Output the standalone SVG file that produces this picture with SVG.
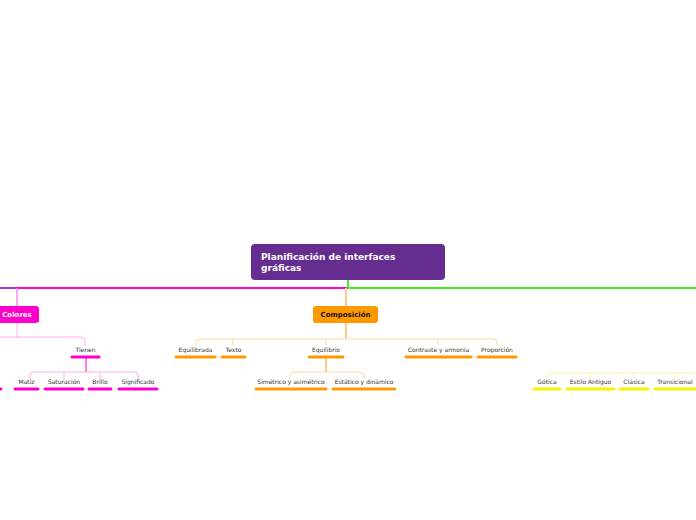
<svg xmlns="http://www.w3.org/2000/svg" width="696" height="520" viewBox="0 0 696 520">
<style>
text{font-family:"DejaVu Sans",Verdana,sans-serif}
.t{font-size:6px;fill:#333;text-anchor:middle}
.u{stroke-width:3;stroke-linecap:round;fill:none}
.c{fill:none;stroke-width:1}
</style>
<rect width="696" height="520" fill="#fff"/>
<g id="connectors">
<path d="M0 288H15" stroke="#9933ff" stroke-width="2"/>
<path d="M15 288H348" stroke="#ff00dd" stroke-width="2"/>
<path d="M348 288H696M348 280V288" stroke="#44ee22" stroke-width="2"/>
<path d="M346 288V306" stroke="#ffcc88" stroke-width="2"/>
<path d="M17 288V306" stroke="#ff88ee" stroke-width="1.5"/>
<path class="c" stroke="#ffaaf0" d="M17 323V337M0 337H81Q85 337 85 341V346"/>
<path class="c" stroke="#ff00cc" stroke-width="1.5" d="M86 357V372"/>
<path class="c" stroke="#ffaaf0" d="M30 380V376Q30 372 34 372H134Q138 372 138 376V380M64 372V380M100 372V380"/>
<path class="c" stroke="#ff9900" stroke-width="1.5" d="M346 323V339"/>
<path class="c" stroke="#ffd8a0" d="M196 345V343Q196 339 200 339H493Q497 339 497 343V345M233 339V345M326 339V345M438 339V345"/>
<path class="c" stroke="#ff9900" stroke-width="1.5" d="M326 357V372"/>
<path class="c" stroke="#ffd8a0" d="M290 378V376Q290 372 294 372H360Q364 372 364 376V378"/>
<path class="c" stroke="#fff3a0" d="M547 378V376Q547 373 551 373H696M590 373V378M634 373V378M675 373V378"/>
</g>
<g id="main">
<rect x="251" y="244" width="194" height="36" rx="4" fill="#662d91"/>
<text x="261" y="260" font-size="9" font-weight="bold" fill="#fff">Planificación de interfaces</text>
<text x="261" y="271" font-size="9" font-weight="bold" fill="#fff">gráficas</text>
</g>
<g id="colores">
<rect x="-6" y="306" width="45" height="17" rx="3" fill="#ff00cc"/>
<text x="17" y="317" font-size="7" font-weight="bold" fill="#fff" text-anchor="middle">Colores</text>
</g>
<g id="composicion">
<rect x="313" y="306" width="65" height="17" rx="3" fill="#ff9900"/>
<text x="345.5" y="317" font-size="7" font-weight="bold" fill="#111" text-anchor="middle">Composición</text>
</g>
<g id="colores-kids" stroke="#ff00cc">
<path class="u" d="M72 357H99M15 389H38M45 389H83M89 389H111M119 389H157M-2 389H1"/>
</g>
<g fill="#333" class="tt">
<text class="t" x="85.5" y="352">Tienen</text>
<text class="t" x="26.5" y="384">Matiz</text>
<text class="t" x="64" y="384">Saturación</text>
<text class="t" x="100" y="384">Brillo</text>
<text class="t" x="138" y="384">Significado</text>
</g>
<g id="comp-kids" stroke="#ff9900">
<path class="u" d="M176 357H215M222 357H245M309 357H343M406 357H471M478 357H516M256 389H326M333 389H395"/>
</g>
<g>
<text class="t" x="195.5" y="352">Equilibrada</text>
<text class="t" x="233.5" y="352">Texto</text>
<text class="t" x="326" y="352">Equilibrio</text>
<text class="t" x="438.5" y="352">Contraste y armonía</text>
<text class="t" x="497" y="352">Proporción</text>
<text class="t" x="291" y="384">Simétrico y asimétrico</text>
<text class="t" x="364" y="384">Estático y dinámico</text>
</g>
<g id="tipo-kids" stroke="#ffee00">
<path class="u" d="M534 389H560M567 389H614M620 389H648M655 389H697"/>
</g>
<g>
<text class="t" x="547" y="384">Gótica</text>
<text class="t" x="590.5" y="384">Estilo Antiguo</text>
<text class="t" x="634" y="384">Clásica</text>
<text class="t" x="675" y="384">Transicional</text>
</g>
</svg>
